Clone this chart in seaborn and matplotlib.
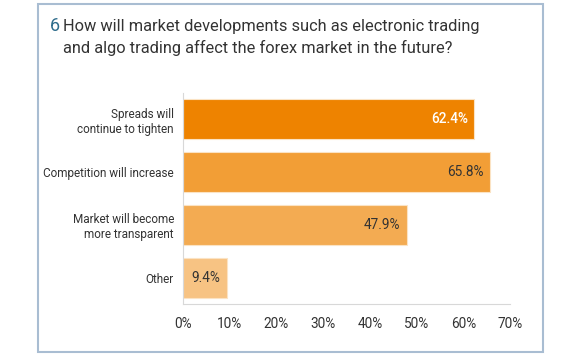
import matplotlib
matplotlib.use('Agg')
import matplotlib.pyplot as plt
import matplotlib.patches as patches
import seaborn as sns
import pandas as pd

categories = ['Spreads will\ncontinue to tighten', 'Competition will increase',
              'Market will become\nmore transparent', 'Other']
values = [62.4, 65.8, 47.9, 9.4]
value_labels = ['62.4%', '65.8%', '47.9%', '9.4%']
bar_colors = ['#EE8300', '#F29E36', '#F3AB52', '#F7C383']
ticks = [0, 10, 20, 30, 40, 50, 60, 70]
tick_labels = ['0%', '10%', '20%', '30%', '40%', '50%', '60%', '70%']

sns.set_style('white')
plt.rcParams['font.family'] = ['Roboto', 'DejaVu Sans']

df = pd.DataFrame({'cat': categories, 'val': values})

fig = plt.figure(figsize=(5.8, 3.58), dpi=100)
ax = fig.add_axes([183/580, 1-304/358, (510-183)/580, (304-93)/358])

sns.barplot(data=df, x='val', y='cat', hue='cat', palette=bar_colors, legend=False,
            saturation=1, width=0.76, edgecolor='#FBE3C4', linewidth=0.8, ax=ax)

ax.set_xlim(0, 70)
ax.set_xticks(ticks)
ax.set_xticklabels(tick_labels, fontsize=9.8, color='#333333')
ax.tick_params(axis='x', direction='in', length=3, color='#D5D5D5', pad=9)
ax.tick_params(axis='y', length=0, pad=6.5, labelsize=8.5, labelcolor='#333333')
ax.set_xlabel('')
ax.set_ylabel('')
for s in ['top', 'right']:
    ax.spines[s].set_visible(False)
for s in ['left', 'bottom']:
    ax.spines[s].set_color('#D8D8D8')
    ax.spines[s].set_linewidth(0.8)

for i, (v, lab) in enumerate(zip(values, value_labels)):
    c = 'white' if i == 0 else '#333333'
    ax.text(v - 1.4, i, lab, ha='right', va='center', fontsize=9.8, color=c,
            fontweight='medium' if i == 0 else 'normal')

# frame around the chart
fig.patches.append(patches.Rectangle((38/580, 1-352/358), (543-38)/580, (352-4)/358,
                                     transform=fig.transFigure, fill=False,
                                     edgecolor='#A9BDD2', linewidth=1.5))

fig.text(50/580, 1-31/358, '6', fontsize=13, color='#2F6D8C', va='baseline')
fig.text(63/580, 1-31/358, 'How will market developments such as electronic trading',
         fontsize=11.8, color='#333333', va='baseline')
fig.text(63/580, 1-53/358, 'and algo trading affect the forex market in the future?',
         fontsize=11.8, color='#333333', va='baseline')

fig.savefig('out.png', dpi=100)
